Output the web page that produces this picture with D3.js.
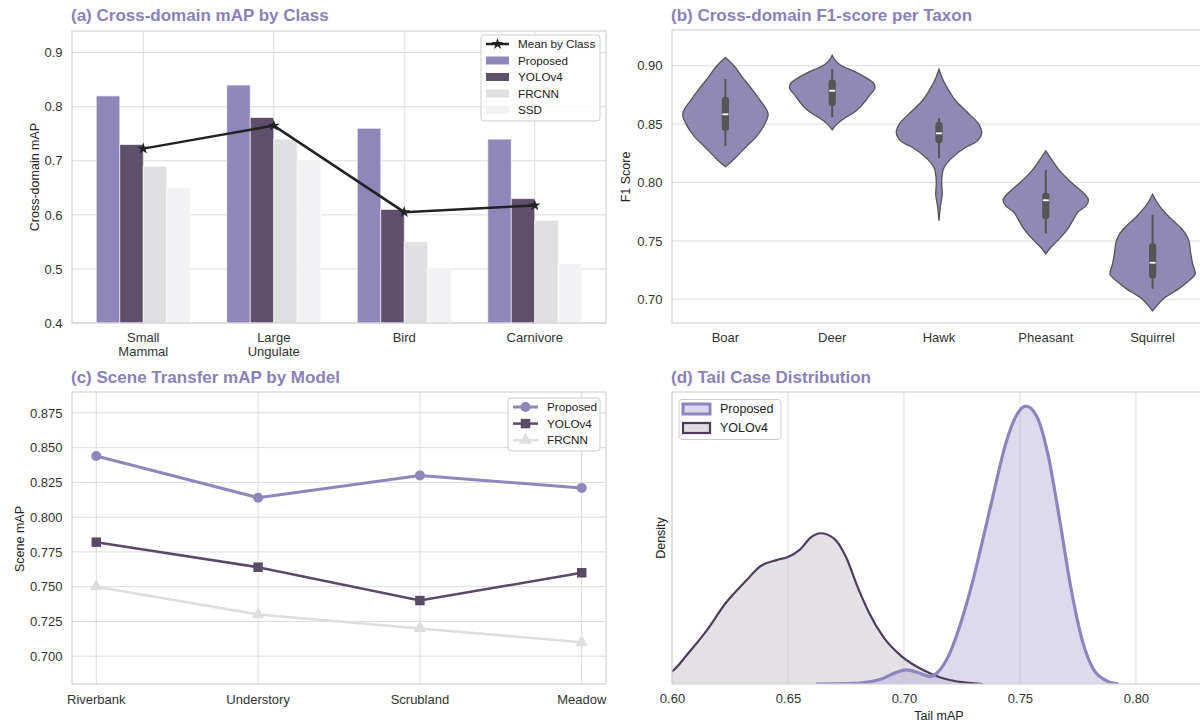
<!DOCTYPE html>
<html>
<head>
<meta charset="utf-8">
<script src="https://cdn.jsdelivr.net/npm/d3@7"></script>
<style>
  body { margin: 0; background: #fff; }
  svg { display: block; }
  text { font-family: "Liberation Sans", Arial, sans-serif; }
</style>
</head>
<body>
<svg id="fig" width="1200" height="722"></svg>
<script>
// ---------- (a) cross-domain mAP by class ----------
const classLabels = [["Small", "Mammal"], ["Large", "Ungulate"], ["Bird"], ["Carnivore"]];
const modelNames = ["Proposed", "YOLOv4", "FRCNN", "SSD"];
const mapProposed = [0.82, 0.84, 0.76, 0.74];
const mapYolo = [0.73, 0.78, 0.61, 0.63];
const mapFrcnn = [0.69, 0.74, 0.55, 0.59];
const mapSsd = [0.65, 0.70, 0.50, 0.51];
const ticksA = [0.4, 0.5, 0.6, 0.7, 0.8, 0.9];

// ---------- (b) F1 per taxon: density profiles [value, relative width] ----------
const taxa = ["Boar", "Deer", "Hawk", "Pheasant", "Squirrel"];
const profileBoar = [[0.907, 0], [0.90, 0.2], [0.89, 0.4], [0.88, 0.62], [0.87, 0.82], [0.86, 0.99], [0.858, 1.0], [0.85, 0.92], [0.84, 0.74], [0.83, 0.47], [0.82, 0.2], [0.8135, 0]];
const profileDeer = [[0.909, 0], [0.90, 0.22], [0.895, 0.53], [0.89, 0.78], [0.885, 0.97], [0.882, 1.0], [0.88, 0.99], [0.875, 0.88], [0.87, 0.78], [0.865, 0.67], [0.86, 0.51], [0.855, 0.29], [0.85, 0.11], [0.845, 0]];
const profileHawk = [[0.897, 0], [0.89, 0.07], [0.88, 0.21], [0.87, 0.39], [0.86, 0.67], [0.85, 0.93], [0.843, 1.0], [0.835, 0.88], [0.83, 0.62], [0.82, 0.27], [0.81, 0.09], [0.80, 0.063], [0.79, 0.077], [0.78, 0.035], [0.7673, 0]];
const profilePheasant = [[0.827, 0], [0.82, 0.13], [0.81, 0.33], [0.80, 0.6], [0.79, 0.91], [0.785, 1.0], [0.78, 0.94], [0.775, 0.76], [0.77, 0.67], [0.76, 0.51], [0.75, 0.27], [0.745, 0.13], [0.739, 0]];
const profileSquirrel = [[0.790, 0], [0.78, 0.16], [0.77, 0.4], [0.76, 0.69], [0.75, 0.85], [0.74, 0.89], [0.73, 0.94], [0.722, 1.0], [0.715, 0.82], [0.71, 0.65], [0.70, 0.24], [0.695, 0.11], [0.690, 0]];
// whisker low, q1, median, q3, whisker high
const boxBoar = [0.8315, 0.8444, 0.8584, 0.8735, 0.8886];
const boxDeer = [0.856, 0.8655, 0.8786, 0.8883, 0.897];
const boxHawk = [0.8207, 0.8336, 0.8421, 0.8518, 0.855];
const boxPheasant = [0.7565, 0.7688, 0.7848, 0.7913, 0.8107];
const boxSquirrel = [0.709, 0.7177, 0.7313, 0.748, 0.7722];
const ticksB = [0.70, 0.75, 0.80, 0.85, 0.90];

// ---------- (c) scene transfer ----------
const scenes = ["Riverbank", "Understory", "Scrubland", "Meadow"];
const sceneProposed = [0.844, 0.814, 0.830, 0.821];
const sceneYolo = [0.782, 0.764, 0.740, 0.760];
const sceneFrcnn = [0.750, 0.730, 0.720, 0.710];
const ticksC = [0.700, 0.725, 0.750, 0.775, 0.800, 0.825, 0.850, 0.875];

// ---------- (d) tail case densities [tail mAP, density] ----------
const kdeProposed = [[0.662, 0], [0.675, 0.05], [0.682, 0.15], [0.690, 0.6], [0.696, 1.4], [0.701, 1.8], [0.706, 1.45], [0.711, 0.95], [0.7142, 1.4], [0.7191, 3.5], [0.724, 7.3], [0.729, 12.3], [0.7339, 18.2], [0.7389, 24.5], [0.7438, 30.4], [0.7488, 34.2], [0.7525, 35.2], [0.7571, 34.0], [0.762, 29.2], [0.7669, 21.2], [0.7719, 12.3], [0.7768, 5.6], [0.7818, 1.8], [0.7868, 0.5], [0.7925, 0]];
const kdeYolo = [[0.592, 0.8], [0.600, 1.6], [0.607, 3.9], [0.615, 6.8], [0.623, 10.2], [0.632, 13.1], [0.638, 14.9], [0.645, 15.7], [0.650, 16.1], [0.655, 17.0], [0.660, 18.6], [0.664, 19.1], [0.670, 18.4], [0.675, 16.1], [0.680, 12.3], [0.685, 9.0], [0.691, 6.0], [0.699, 3.5], [0.708, 1.8], [0.716, 0.8], [0.726, 0.2], [0.734, 0]];
const ticksD = [0.60, 0.65, 0.70, 0.75, 0.80];

// ---------- styling ----------
const cProposed = "#8f87ba";
const cYolo = "#5e4f6b";
const cFrcnn = "#e0dfe2";
const cSsd = "#f2f2f4";
const cTitle = "#8a81b8";
const cGrid = "#dcdcdc";
const cFrame = "#d2d2d2";

const svg = d3.select("#fig");
const panels = {
  a: { x0: 72, x1: 606, y0: 31, y1: 323 },
  b: { x0: 672, x1: 1206, y0: 30, y1: 323 },
  c: { x0: 72, x1: 606, y0: 392, y1: 684 },
  d: { x0: 672, x1: 1206, y0: 392, y1: 684 }
};

const defs = svg.append("defs");
Object.entries(panels).forEach(([k, p]) => {
  defs.append("clipPath").attr("id", "clip-" + k)
    .append("rect").attr("x", p.x0).attr("y", p.y0)
    .attr("width", p.x1 - p.x0).attr("height", p.y1 - p.y0);
});

function title(p, txt, baseline) {
  svg.append("text").attr("x", p.x0 - 1).attr("y", baseline)
    .attr("font-size", 17).attr("font-weight", "bold").attr("fill", cTitle)
    .text(txt);
}
function frame(p) {
  svg.append("rect").attr("x", p.x0).attr("y", p.y0)
    .attr("width", p.x1 - p.x0).attr("height", p.y1 - p.y0)
    .attr("fill", "none").attr("stroke", cFrame).attr("stroke-width", 1.2);
}
function yAxis(p, y, ticks, fmt) {
  const g = svg.append("g").attr("transform", `translate(${p.x0},0)`)
    .call(d3.axisLeft(y).tickValues(ticks).tickSize(0).tickPadding(9.5).tickFormat(fmt));
  g.select(".domain").remove();
  g.selectAll("text").attr("font-size", 13).attr("fill", "#333")
    .attr("font-family", '"Liberation Sans", Arial, sans-serif');
}
function hGrid(p, y, ticks) {
  svg.append("g").selectAll("line").data(ticks).join("line")
    .attr("x1", p.x0).attr("x2", p.x1)
    .attr("y1", d => y(d)).attr("y2", d => y(d))
    .attr("stroke", cGrid).attr("stroke-width", 1);
}
function vGrid(p, xs) {
  svg.append("g").selectAll("line").data(xs).join("line")
    .attr("x1", d => d).attr("x2", d => d)
    .attr("y1", p.y0).attr("y2", p.y1)
    .attr("stroke", cGrid).attr("stroke-width", 1);
}
function yLabel(x, cy, txt) {
  svg.append("text").attr("transform", `translate(${x},${cy}) rotate(-90)`)
    .attr("text-anchor", "middle").attr("font-size", 12.5).attr("fill", "#222").text(txt);
}

// ================= Panel (a) =================
{
  const p = panels.a;
  const x = d3.scaleLinear().domain([-0.546, 3.546]).range([p.x0, p.x1]);
  const y = d3.scaleLinear().domain([0.4, 0.94]).range([p.y1, p.y0]);
  const series = [mapProposed, mapYolo, mapFrcnn, mapSsd];
  const colors = [cProposed, cYolo, cFrcnn, cSsd];
  const bw = 0.18;

  hGrid(p, y, ticksA);
  vGrid(p, classLabels.map((_, i) => x(i)));

  series.forEach((vals, s) => {
    svg.append("g").selectAll("rect").data(vals).join("rect")
      .attr("x", (d, i) => x(i + (s - 1.5) * bw - bw / 2))
      .attr("width", x(bw) - x(0))
      .attr("y", d => y(d))
      .attr("height", d => y(0.4) - y(d))
      .attr("fill", colors[s])
      .attr("stroke", "#ffffff").attr("stroke-opacity", 0.6).attr("stroke-width", 1);
  });

  const means = classLabels.map((_, i) => d3.mean(series, v => v[i]));
  svg.append("path").datum(means)
    .attr("d", d3.line().x((d, i) => x(i)).y(d => y(d)))
    .attr("fill", "none").attr("stroke", "#222").attr("stroke-width", 2.5);
  svg.append("g").selectAll("path").data(means).join("path")
    .attr("transform", (d, i) => `translate(${x(i)},${y(d)})`)
    .attr("d", d3.symbol(d3.symbolStar, 42)).attr("fill", "#222");

  frame(p);
  yAxis(p, y, ticksA, d3.format(".1f"));
  classLabels.forEach((lines, i) => {
    lines.forEach((ln, j) => {
      svg.append("text").attr("x", x(i)).attr("y", 342 + j * 14)
        .attr("text-anchor", "middle").attr("font-size", 13).attr("fill", "#333").text(ln);
    });
  });
  yLabel(39, 177, "Cross-domain mAP");
  title(p, "(a) Cross-domain mAP by Class", 21);

  // legend
  const lg = svg.append("g");
  lg.append("rect").attr("x", 481).attr("y", 35).attr("width", 119).attr("height", 86)
    .attr("rx", 3).attr("fill", "#fff").attr("fill-opacity", 0.85).attr("stroke", "#cccccc");
  const rowY = r => 44 + r * 16.5;
  lg.append("line").attr("x1", 486).attr("x2", 509).attr("y1", rowY(0)).attr("y2", rowY(0))
    .attr("stroke", "#222").attr("stroke-width", 2.5);
  lg.append("path").attr("transform", `translate(497.5,${rowY(0)})`)
    .attr("d", d3.symbol(d3.symbolStar, 42)).attr("fill", "#222");
  const lgItems = ["Mean by Class"].concat(modelNames);
  lgItems.forEach((name, r) => {
    if (r > 0) {
      lg.append("rect").attr("x", 486).attr("y", rowY(r) - 4).attr("width", 23).attr("height", 8)
        .attr("fill", colors[r - 1]);
    }
    lg.append("text").attr("x", 518).attr("y", rowY(r)).attr("dy", "0.35em")
      .attr("font-size", 11.7).attr("fill", "#222").text(name);
  });
}

// ================= Panel (b) =================
{
  const p = panels.b;
  const x = d3.scaleBand().domain(taxa).range([p.x0, p.x1]);
  const y = d3.scaleLinear().domain([0.6797, 0.9306]).range([p.y1, p.y0]);
  const halfW = d3.scaleLinear().domain([0, 1]).range([0, x.bandwidth() * 0.4]);
  const profiles = [profileBoar, profileDeer, profileHawk, profilePheasant, profileSquirrel];
  const boxes = [boxBoar, boxDeer, boxHawk, boxPheasant, boxSquirrel];

  hGrid(p, y, ticksB);
  const g = svg.append("g").attr("clip-path", "url(#clip-b)");
  taxa.forEach((t, i) => {
    const cx = x(t) + x.bandwidth() / 2;
    const area = d3.area()
      .y(d => y(d[0]))
      .x0(d => cx - halfW(d[1]))
      .x1(d => cx + halfW(d[1]))
      .curve(d3.curveMonotoneY);
    g.append("path").datum(profiles[i]).attr("d", area)
      .attr("fill", "#8f89b4").attr("stroke", "#555555").attr("stroke-width", 1.3);
    const b = boxes[i];
    g.append("line").attr("x1", cx).attr("x2", cx).attr("y1", y(b[0])).attr("y2", y(b[4]))
      .attr("stroke", "#555555").attr("stroke-width", 2);
    g.append("rect").attr("x", cx - 3.6).attr("width", 7.2)
      .attr("y", y(b[3])).attr("height", y(b[1]) - y(b[3]))
      .attr("rx", 3).attr("fill", "#555555");
    g.append("line").attr("x1", cx - 3).attr("x2", cx + 3).attr("y1", y(b[2])).attr("y2", y(b[2]))
      .attr("stroke", "#ffffff").attr("stroke-width", 1.8);
  });

  frame(p);
  yAxis(p, y, ticksB, d3.format(".2f"));
  taxa.forEach(t => {
    svg.append("text").attr("x", x(t) + x.bandwidth() / 2).attr("y", 342)
      .attr("text-anchor", "middle").attr("font-size", 13).attr("fill", "#333").text(t);
  });
  yLabel(630, 177, "F1 Score");
  title(p, "(b) Cross-domain F1-score per Taxon", 21);
}

// ================= Panel (c) =================
{
  const p = panels.c;
  const x = d3.scaleLinear().domain([-0.15, 3.15]).range([p.x0, p.x1]);
  const y = d3.scaleLinear().domain([0.680, 0.890]).range([p.y1, p.y0]);
  hGrid(p, y, ticksC);
  vGrid(p, scenes.map((_, i) => x(i)));

  const line = d3.line().x((d, i) => x(i)).y(d => y(d));
  const defsSeries = [
    { vals: sceneFrcnn, color: "#dedede", width: 2.5, sym: d3.symbolTriangle, size: 70 },
    { vals: sceneYolo, color: "#5a4a67", width: 2.5, sym: d3.symbolSquare, size: 90 },
    { vals: sceneProposed, color: "#8f87bc", width: 3, sym: d3.symbolCircle, size: 80 }
  ];
  defsSeries.forEach(s => {
    svg.append("path").datum(s.vals).attr("d", line)
      .attr("fill", "none").attr("stroke", s.color).attr("stroke-width", s.width);
    svg.append("g").selectAll("path").data(s.vals).join("path")
      .attr("transform", (d, i) => `translate(${x(i)},${y(d)})`)
      .attr("d", d3.symbol(s.sym, s.size)).attr("fill", s.color);
  });

  frame(p);
  yAxis(p, y, ticksC, d3.format(".3f"));
  scenes.forEach((s, i) => {
    svg.append("text").attr("x", x(i)).attr("y", 704)
      .attr("text-anchor", "middle").attr("font-size", 13).attr("fill", "#333").text(s);
  });
  yLabel(23.5, 539, "Scene mAP");
  title(p, "(c) Scene Transfer mAP by Model", 383);

  // legend
  const lg = svg.append("g");
  lg.append("rect").attr("x", 508).attr("y", 398).attr("width", 92).attr("height", 53)
    .attr("rx", 3).attr("fill", "#fff").attr("fill-opacity", 0.85).attr("stroke", "#cccccc");
  const items = [
    { name: "Proposed", s: defsSeries[2] },
    { name: "YOLOv4", s: defsSeries[1] },
    { name: "FRCNN", s: defsSeries[0] }
  ];
  items.forEach((it, r) => {
    const yy = 407 + r * 16.6;
    lg.append("line").attr("x1", 513).attr("x2", 538).attr("y1", yy).attr("y2", yy)
      .attr("stroke", it.s.color).attr("stroke-width", it.s.width);
    lg.append("path").attr("transform", `translate(525.5,${yy})`)
      .attr("d", d3.symbol(it.s.sym, it.s.size)).attr("fill", it.s.color);
    lg.append("text").attr("x", 547).attr("y", yy).attr("dy", "0.35em")
      .attr("font-size", 11.7).attr("fill", "#222").text(it.name);
  });
}

// ================= Panel (d) =================
{
  const p = panels.d;
  const x = d3.scaleLinear().domain([0.60, 0.8302]).range([p.x0, p.x1]);
  const y = d3.scaleLinear().domain([0, 37]).range([p.y1, p.y0]);
  vGrid(p, ticksD.map(v => x(v)));

  const g = svg.append("g").attr("clip-path", "url(#clip-d)");
  const area = d3.area().x(d => x(d[0])).y0(y(0)).y1(d => y(d[1])).curve(d3.curveMonotoneX);
  const ln = d3.line().x(d => x(d[0])).y(d => y(d[1])).curve(d3.curveMonotoneX);

  g.append("path").datum(kdeYolo).attr("d", area).attr("fill", "#cdc9d2").attr("fill-opacity", 0.55);
  g.append("path").datum(kdeProposed).attr("d", area).attr("fill", "#b4acd6").attr("fill-opacity", 0.45);
  g.append("path").datum(kdeYolo).attr("d", ln).attr("fill", "none")
    .attr("stroke", "#4d3d5a").attr("stroke-width", 2.2);
  g.append("path").datum(kdeProposed).attr("d", ln).attr("fill", "none")
    .attr("stroke", "#8d85bd").attr("stroke-width", 3.2);

  frame(p);
  const gx = svg.append("g").attr("transform", `translate(0,${p.y1})`)
    .call(d3.axisBottom(x).tickValues(ticksD).tickSize(0).tickPadding(10).tickFormat(d3.format(".2f")));
  gx.select(".domain").remove();
  gx.selectAll("text").attr("font-size", 13).attr("fill", "#333")
    .attr("font-family", '"Liberation Sans", Arial, sans-serif');
  svg.append("text").attr("x", (p.x0 + p.x1) / 2).attr("y", 720)
    .attr("text-anchor", "middle").attr("font-size", 12.5).attr("fill", "#222").text("Tail mAP");
  yLabel(665, 538, "Density");
  title(p, "(d) Tail Case Distribution", 383);

  // legend
  const lg = svg.append("g");
  lg.append("rect").attr("x", 679).attr("y", 399.5).attr("width", 102).attr("height", 40)
    .attr("rx", 3).attr("fill", "#fff").attr("fill-opacity", 0.85).attr("stroke", "#cccccc");
  const items = [
    { name: "Proposed", fill: "#dcd8ec", stroke: "#8d85bd", sw: 3 },
    { name: "YOLOv4", fill: "#dedce1", stroke: "#4d3d5a", sw: 2.2 }
  ];
  items.forEach((it, r) => {
    const yy = 409 + r * 19;
    lg.append("rect").attr("x", 683).attr("y", yy - 5).attr("width", 27).attr("height", 10)
      .attr("fill", it.fill).attr("stroke", it.stroke).attr("stroke-width", it.sw);
    lg.append("text").attr("x", 720).attr("y", yy).attr("dy", "0.35em")
      .attr("font-size", 12.5).attr("fill", "#222").text(it.name);
  });
}
</script>
</body>
</html>
